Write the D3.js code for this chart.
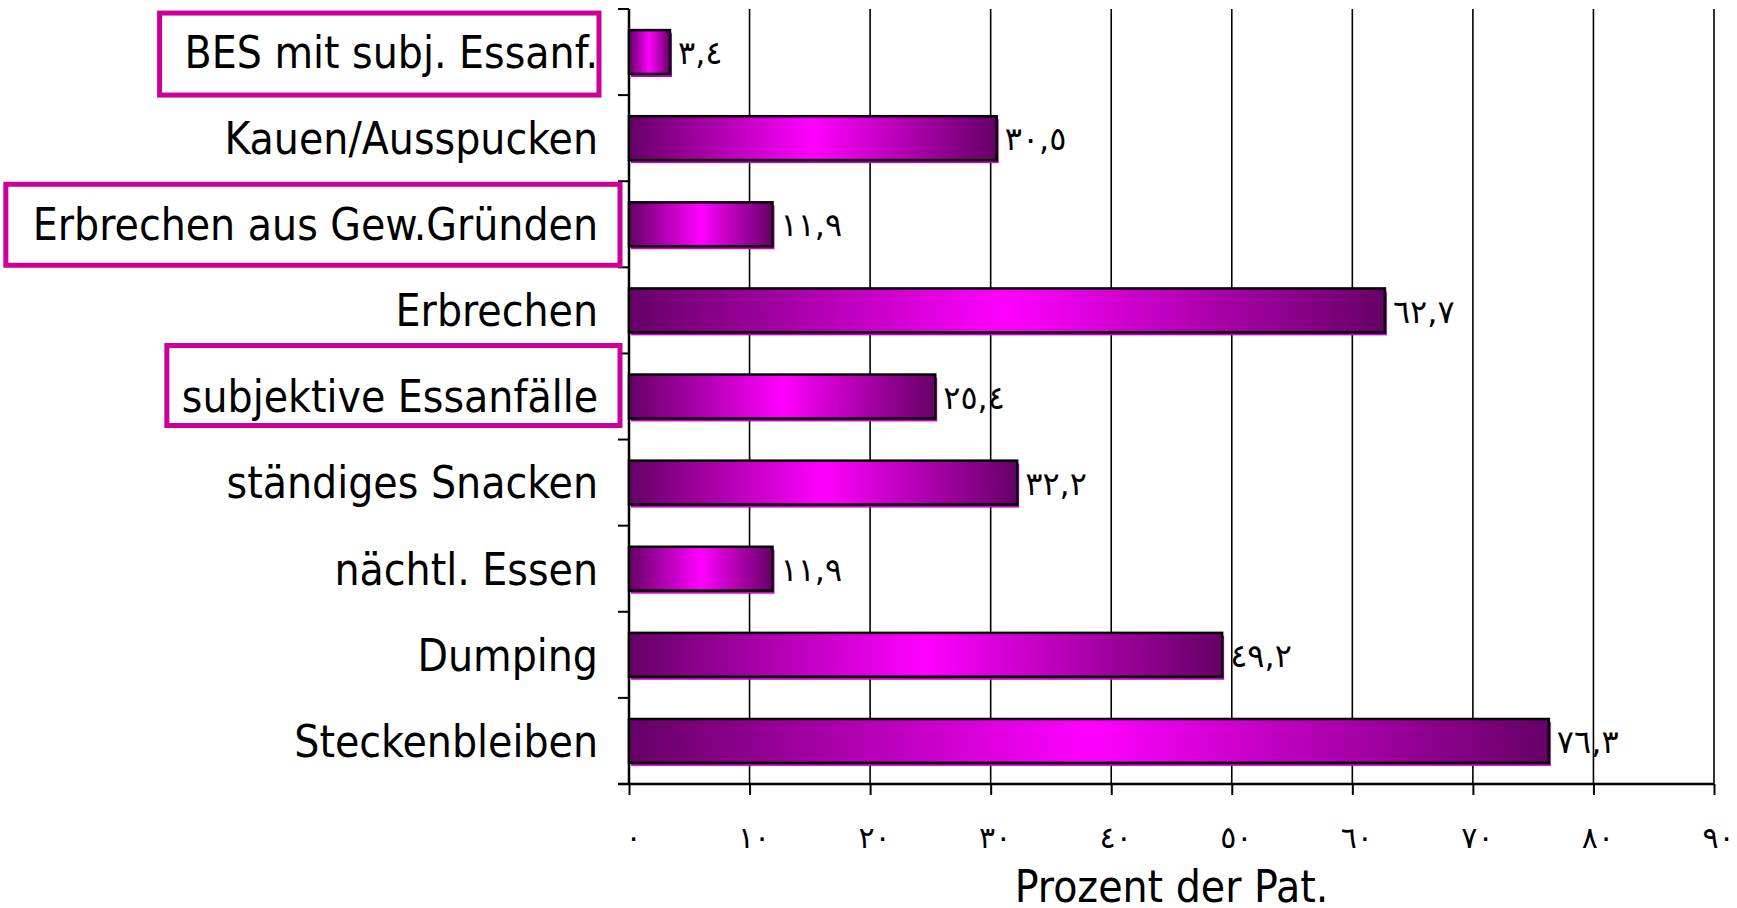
<!DOCTYPE html>
<html>
<head>
<meta charset="utf-8">
<script src="https://cdnjs.cloudflare.com/ajax/libs/d3/7.8.5/d3.min.js"></script>
<style>
  html, body { margin: 0; padding: 0; background: #fff; }
  svg { display: block; }
  text { font-family: "DejaVu Sans Condensed", "DejaVu Sans", sans-serif; fill: #000; }
</style>
</head>
<body>
<svg id="chart"></svg>
<script>
// 데이터
var categories = ["BES mit subj. Essanf.", "Kauen/Ausspucken", "Erbrechen aus Gew.Gründen",
  "Erbrechen", "subjektive Essanfälle", "ständiges Snacken", "nächtl. Essen", "Dumping", "Steckenbleiben"];
var values = [3.4, 30.5, 11.9, 62.7, 25.4, 32.2, 11.9, 49.2, 76.3];
var xTicks = [0, 10, 20, 30, 40, 50, 60, 70, 80, 90];
var highlighted = [0, 2, 4];
var axisTitle = "Prozent der Pat.";

// box padding [left, right, top, bottom] for highlighted labels
var boxPad = [[25, 1, 39, 43], [27, 22, 40, 41], [15, 22, 51, 29]];

var width = 1737,
    height = 908,
    plotLeft = 629, plotRight = 1714, plotTop = 9, plotBottom = 784;

// arabic-indic digits
function arabic(n) {
  var digits = "٠١٢٣٤٥٦٧٨٩";
  return String(n).replace(".", ",").replace(/[0-9]/g, function (c) { return digits[+c]; });
}

var svg = d3.select("#chart").attr("width", width).attr("height", height);

var x = d3.scaleLinear().domain([0, 90]).range([plotLeft, plotRight]);
var y = d3.scaleBand().domain(categories).range([plotTop, plotBottom])
  .paddingInner(0.49).paddingOuter(0.245);

var defs = svg.append("defs");
var grad = defs.append("linearGradient").attr("id", "barGrad")
  .attr("x1", "0%").attr("x2", "100%").attr("y1", "0%").attr("y2", "0%");
grad.append("stop").attr("offset", "0%").attr("stop-color", "#660066");
grad.append("stop").attr("offset", "50%").attr("stop-color", "#ff00ff");
grad.append("stop").attr("offset", "100%").attr("stop-color", "#660066");

// value labels (under the grid, like the original)
svg.selectAll(".val")
  .data(values)
  .enter().append("text")
  .attr("class", "val")
  .attr("x", function (d) { return x(d) + 8; })
  .attr("y", function (d, i) { return y(categories[i]) + y.bandwidth() / 2; })
  .attr("dy", "0.38em")
  .style("font-family", "'DejaVu Sans', sans-serif")
  .style("font-size", "32px")
  .style("letter-spacing", "4px")
  .attr("direction", "ltr")
  .text(function (d) { return arabic(d); });

// vertical grid
svg.selectAll(".grid")
  .data(xTicks.slice(1))
  .enter().append("line")
  .attr("x1", function (d) { return x(d); })
  .attr("x2", function (d) { return x(d); })
  .attr("y1", plotTop).attr("y2", plotBottom)
  .attr("stroke", "#000").attr("stroke-width", 1.6);

// x axis
var xAxis = d3.axisBottom(x).tickValues(xTicks).tickSize(11).tickPadding(32)
  .tickFormat(function (d) { return arabic(d); });
var gx = svg.append("g").attr("transform", "translate(0," + plotBottom + ")").call(xAxis);
gx.select(".domain").remove();
gx.selectAll(".tick line").attr("stroke", "#000").attr("stroke-width", 2);
gx.selectAll(".tick text")
  .style("font-family", "'DejaVu Sans', sans-serif")
  .style("font-size", "30px")
  .style("letter-spacing", "8px")
  .attr("dx", "4px");
svg.append("line").attr("x1", plotLeft - 11).attr("x2", plotRight)
  .attr("y1", plotBottom).attr("y2", plotBottom)
  .attr("stroke", "#000").attr("stroke-width", 2.5);

// y axis line + ticks on band boundaries
svg.append("line").attr("x1", plotLeft).attr("x2", plotLeft)
  .attr("y1", plotTop).attr("y2", plotBottom)
  .attr("stroke", "#000").attr("stroke-width", 2.5);
var bounds = categories.map(function (c) { return y(c) - y.step() * y.paddingInner() / 2; });
bounds.push(plotBottom);
svg.selectAll(".ytick")
  .data(bounds)
  .enter().append("line")
  .attr("x1", plotLeft - 11).attr("x2", plotLeft)
  .attr("y1", function (d) { return d; }).attr("y2", function (d) { return d; })
  .attr("stroke", "#000").attr("stroke-width", 2);

// bars
var bar = svg.selectAll(".bar")
  .data(values)
  .enter().append("g")
  .attr("class", "bar");

bar.append("rect")
  .attr("x", plotLeft + 2)
  .attr("y", function (d, i) { return y(categories[i]) + 3; })
  .attr("width", function (d) { return x(d) - plotLeft; })
  .attr("height", y.bandwidth())
  .attr("fill", "#cc00cc");

bar.append("rect")
  .attr("x", plotLeft)
  .attr("y", function (d, i) { return y(categories[i]); })
  .attr("width", function (d) { return x(d) - plotLeft; })
  .attr("height", y.bandwidth())
  .attr("fill", "url(#barGrad)")
  .attr("stroke", "#000")
  .attr("stroke-width", 2.5);

// category labels
var labels = svg.selectAll(".cat")
  .data(categories)
  .enter().append("text")
  .attr("class", "cat")
  .attr("x", 598)
  .attr("y", function (d) { return y(d) + y.bandwidth() / 2; })
  .attr("dy", "0.36em")
  .attr("text-anchor", "end")
  .style("font-size", "44px")
  .text(function (d) { return d; });

// highlight boxes
highlighted.forEach(function (idx, k) {
  var node = labels.nodes()[idx];
  var bb = node.getBBox();
  var cy = y(categories[idx]) + y.bandwidth() / 2;
  var p = boxPad[k];
  svg.append("rect")
    .attr("x", bb.x - p[0])
    .attr("y", cy - p[2])
    .attr("width", bb.width + p[0] + p[1])
    .attr("height", p[2] + p[3])
    .attr("fill", "none")
    .attr("stroke", "#cc0099")
    .attr("stroke-width", 5);
});

// axis title
svg.append("text")
  .attr("x", (plotLeft + plotRight) / 2)
  .attr("y", 887)
  .attr("dy", "0.35em")
  .attr("text-anchor", "middle")
  .style("font-size", "44px")
  .text(axisTitle);
</script>
</body>
</html>
